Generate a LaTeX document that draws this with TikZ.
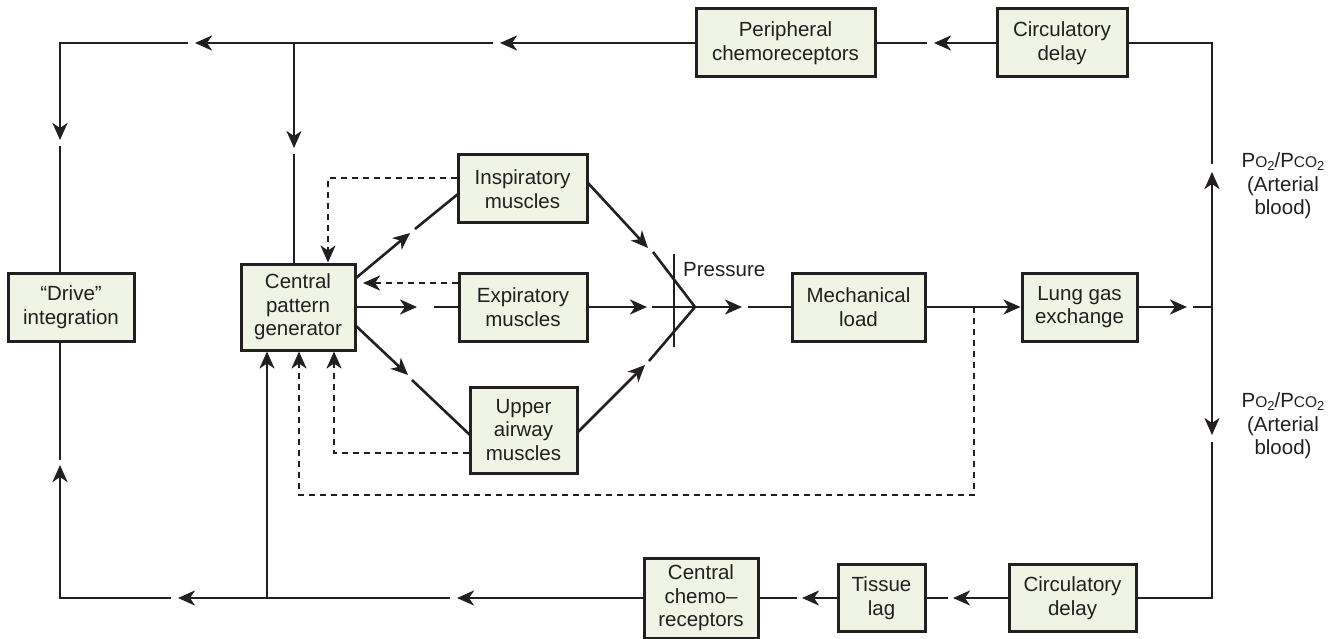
\documentclass[tikz,border=0pt]{standalone}
\usepackage{fontspec}
\setmainfont{Liberation Sans}
\usetikzlibrary{arrows.meta}
\definecolor{boxfill}{HTML}{EFF4E4}
\definecolor{ink}{HTML}{231F20}
\newcommand{\gasP}{P{\fontsize{15.5}{15.5}\selectfont O}\raisebox{-3pt}{\fontsize{13}{13}\selectfont 2}/P{\fontsize{15.5}{15.5}\selectfont CO}\raisebox{-3pt}{\fontsize{13}{13}\selectfont 2}}
\begin{document}
\begin{tikzpicture}[x=1pt,y=-1pt,
  box/.style={draw=ink, line width=3pt, fill=boxfill, align=center, inner sep=0pt, text=ink,
    font=\fontsize{20.5}{23.5}\selectfont},
  ln/.style={draw=ink, line width=2.6pt},
  arr/.style={ln, -{Stealth[length=17pt,width=15pt,inset=5pt]}},
  dsh/.style={dash pattern=on 6pt off 5pt},
  lbl/.style={text=ink, align=center, inner sep=0pt, font=\fontsize{20.5}{23.5}\selectfont}
]
\useasboundingbox (0,0) rectangle (1336,639);
% boxes
\node[box,minimum width=179pt,minimum height=68pt] (peri) at (785.5,43) {Peripheral\\chemoreceptors};
\node[box,minimum width=130pt,minimum height=68pt] (circT) at (1062,43) {Circulatory\\delay};
\node[box,minimum width=126pt,minimum height=68pt] (drive) at (71,307) {“Drive”\\integration};
\node[box,minimum width=114pt,minimum height=86pt] (cpg) at (298,307) {Central\\pattern\\generator};
\node[box,minimum width=129pt,minimum height=68pt] (insp) at (522.5,189) {Inspiratory\\muscles};
\node[box,minimum width=128pt,minimum height=68pt] (exp) at (523,307) {Expiratory\\muscles};
\node[box,minimum width=107pt,minimum height=86pt] (upper) at (523.5,430) {Upper\\airway\\muscles};
\node[box,minimum width=133pt,minimum height=68pt] (mech) at (858.5,307) {Mechanical\\load};
\node[box,minimum width=115pt,minimum height=68pt] (lung) at (1079.5,307) {Lung gas\\exchange};
\node[box,minimum width=127pt,minimum height=67pt] (circB) at (1072.5,598) {Circulatory\\delay};
\node[box,minimum width=87pt,minimum height=67pt] (tissue) at (881.5,598) {Tissue\\lag};
\node[box,minimum width=114pt,minimum height=80pt] (chemo) at (701,598) {Central\\chemo–\\receptors};
% labels
\node[lbl] (pressure) at (683,270) [anchor=west] {Pressure};
\node[lbl] (gasup) at (1283,186) {\gasP\\(Arterial\\blood)};
\node[lbl] (gasdn) at (1283,426) {\gasP\\(Arterial\\blood)};
% coordinates
\coordinate (jR) at (1212,307);
\coordinate (a1t) at (1212,172); \coordinate (a1g) at (1212,164);
\coordinate (a2t) at (934,43);  \coordinate (a2g) at (927,43);
\coordinate (a3t) at (500,43);  \coordinate (a3g) at (493,43);
\coordinate (a4t) at (195,43);  \coordinate (a4g) at (188,43);
\coordinate (a5t) at (60,140);  \coordinate (a5g) at (60,146);
\coordinate (jT) at (294,43);
\coordinate (a6t) at (294,148); \coordinate (a6g) at (294,154);
\coordinate (a7t) at (1212,435); \coordinate (a7g) at (1212,442);
\coordinate (a8t) at (953,598); \coordinate (a8g) at (948,598);
\coordinate (a9t) at (802,598); \coordinate (a9g) at (797,598);
\coordinate (a10t) at (457,598); \coordinate (a10g) at (450,598);
\coordinate (a11t) at (178,598); \coordinate (a11g) at (171,598);
\coordinate (a12t) at (60,465); \coordinate (a12g) at (60,460);
\coordinate (jB) at (267,598);
\coordinate (P) at (695,307);
\coordinate (b1s) at (356,278); \coordinate (b1t) at (410,233); \coordinate (b1g) at (415,229); \coordinate (b1e) at (458,194);
\coordinate (b2t) at (417,307); \coordinate (b2g) at (434,307);
\coordinate (b3s) at (355,325); \coordinate (b3t) at (408,375); \coordinate (b3g) at (412,380); \coordinate (b3e) at (470,435);
\coordinate (c1s) at (588,183); \coordinate (c1t) at (648,248); \coordinate (c1g) at (653,252);
\coordinate (c2t) at (647,307); \coordinate (c2g) at (652,307);
\coordinate (c3s) at (577,433); \coordinate (c3t) at (645,365); \coordinate (c3g) at (649,361);
\coordinate (c4t) at (742,307); \coordinate (c4g) at (748,307);
\coordinate (c5t) at (1187,307); \coordinate (c5g) at (1193,307);
\coordinate (barT) at (674,254); \coordinate (barB) at (674,347);
\coordinate (jM) at (974,307);
\coordinate (d1) at (328,178);
\coordinate (d2) at (363,283);
\coordinate (d3) at (334,453);
\coordinate (d4) at (299,495);
% top loop
\draw[arr] (jR) -- (a1t);
\draw[ln] (a1g) |- (circT.east);
\draw[arr] (circT.west) -- (a2t);
\draw[ln] (a2g) -- (peri.east);
\draw[arr] (peri.west) -- (a3t);
\draw[arr] (a3g) -- (a4t);
\draw[arr] (a4g) -| (a5t);
\draw[ln] (a5g) -- (drive.north -| a5g);
\draw[arr] (jT) -- (a6t);
\draw[ln] (a6g) -- (cpg.north -| a6g);
% motor outputs
\draw[arr] (b1s) -- (b1t);
\draw[ln] (b1g) -- (b1e);
\draw[arr] (cpg.east) -- (b2t);
\draw[ln] (b2g) -- (exp.west);
\draw[arr] (b3s) -- (b3t);
\draw[ln] (b3g) -- (b3e);
\draw[arr] (c1s) -- (c1t);
\draw[ln] (c1g) -- (P);
\draw[arr] (exp.east) -- (c2t);
\draw[ln] (c2g) -- (P);
\draw[arr] (c3s) -- (c3t);
\draw[ln] (c3g) -- (P);
\draw[ln] (barT) -- (barB);
\draw[arr] (P) -- (c4t);
\draw[ln] (c4g) -- (mech.west);
\draw[arr] (mech.east) -- (lung.west);
\draw[arr] (lung.east) -- (c5t);
\draw[ln] (c5g) -- (jR);
% bottom loop
\draw[arr] (jR) -- (a7t);
\draw[ln] (a7g) |- (circB.east);
\draw[arr] (circB.west) -- (a8t);
\draw[ln] (a8g) -- (tissue.east);
\draw[arr] (tissue.west) -- (a9t);
\draw[ln] (a9g) -- (chemo.east);
\draw[arr] (chemo.west) -- (a10t);
\draw[arr] (a10g) -- (a11t);
\draw[arr] (a11g) -| (a12t);
\draw[ln] (a12g) -- (drive.south -| a12g);
\draw[arr] (jB) -- (cpg.south -| jB);
% dashed feedback
\draw[arr,dsh] (insp.west |- d1) -| (cpg.north -| d1);
\draw[arr,dsh] (exp.west |- d2) -- (d2);
\draw[arr,dsh] (upper.west |- d3) -| (cpg.south -| d3);
\draw[arr,dsh] (jM) |- (d4) -- (cpg.south -| d4);
\end{tikzpicture}
\end{document}
